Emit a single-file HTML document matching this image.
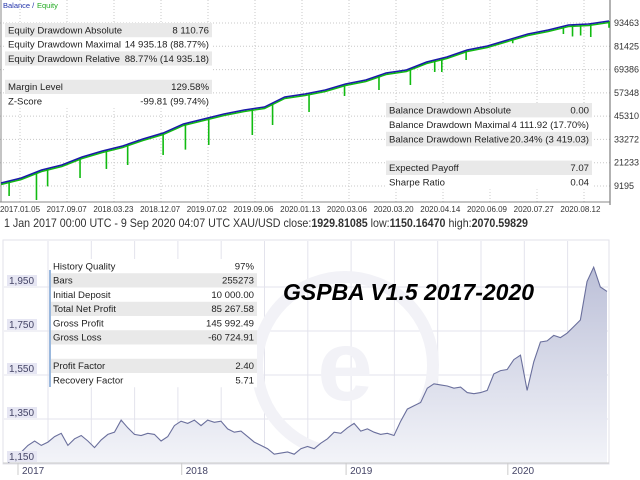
<!DOCTYPE html>
<html><head><meta charset="utf-8">
<style>
body{margin:0;width:640px;height:480px;overflow:hidden;background:#fff;font-family:"Liberation Sans",sans-serif;}
svg{position:absolute;left:0;top:0}
</style></head>
<body>
<svg width="640" height="480" viewBox="0 0 640 480">
<defs>
<linearGradient id="gf" x1="0" y1="0" x2="0" y2="1"><stop offset="0" stop-color="#bcc0d8"/><stop offset="1" stop-color="#f3f4f9"/></linearGradient>
</defs>
<g id="top"></g>
<g id="bot"></g>
</svg>
<script>
// ---- top chart data ----
const balVals=[10746,13331,17467,20052,24188,27290,29875,33494,36596,41249,43834,46419,48487,50038,55208,56759,58827,61929,63997,67616,69167,73303,75888,79507,81575,84677,87779,89847,92432,92949,94500];
const dipIdx=[0.4,1.75,2.3,3.9,5.2,6.25,8,9.1,10.25,12.4,13.4,15.2,16.95,18.65,20.2,21.4,21.75,22.95,25.25,27.75,28.2,28.6,29.1,30];
const dipVals=[4025,1957,9000,13331,18000,20052,25222,28000,30392,35562,40732,47453,55725,58827,61412,68133,68133,74337,83000,87779,86500,87000,86228,91000];
const yTicksTop=[9195,21233,33272,45310,57348,69386,81425,93463,105501];
const xLabelsTop=["2017.01.05","2017.09.07","2018.03.23","2018.12.07","2019.07.02","2019.09.06","2020.01.13","2020.03.06","2020.03.20","2020.04.14","2020.06.09","2020.07.27","2020.08.12"];
// ---- bottom chart data ----
const prices=[1150,1185,1200,1230,1250,1230,1245,1270,1285,1230,1260,1275,1250,1220,1255,1280,1290,1345,1310,1280,1275,1285,1280,1250,1270,
1320,1340,1330,1345,1320,1345,1335,1340,1305,1290,1295,1270,1245,1230,1215,1190,1195,1200,1190,1215,1225,1215,1240,1260,
1290,1285,1310,1330,1295,1305,1290,1280,1285,1275,1340,1395,1410,1425,1490,1510,1505,1500,1490,1495,1470,1465,1470,1480,
1555,1570,1575,1620,1640,1480,1610,1700,1705,1730,1720,1740,1770,1800,1975,2040,1950,1930];
const yearLabels=["2017","2018","2019","2020"];
const yearIdx=[1.5,26.1,50.8,75.1];
const priceTicks=[1150,1350,1550,1750,1950];

const NS="http://www.w3.org/2000/svg";
function mk(p,t,a,txt){const e=document.createElementNS(NS,t);for(const k in a)e.setAttribute(k,a[k]);if(txt!==undefined)e.textContent=txt;p.appendChild(e);return e;}

// top chart
const T=document.getElementById('top');
const tx=i=>i*608/(balVals.length-1)+1;
const ty=v=>186-(v-9195)/517;
for(let i=0;i<13;i++){const x=20+i*47;mk(T,'line',{x1:x,y1:0,x2:x,y2:202,stroke:'#c8c8c8','stroke-dasharray':'1,2'});}
yTicksTop.forEach(v=>{const y=ty(v);if(y<0)return;mk(T,'line',{x1:0,y1:y,x2:610,y2:y,stroke:'#c8c8c8','stroke-dasharray':'1,2'});
const l=mk(T,'text',{x:614,y:y+3,'font-size':9,fill:'#333'},String(v));});
mk(T,'line',{x1:1,y1:0,x2:1,y2:202,stroke:'#888'});
mk(T,'line',{x1:610,y1:0,x2:610,y2:205,stroke:'#666'});
mk(T,'line',{x1:0,y1:202,x2:610,y2:202,stroke:'#888'});
xLabelsTop.forEach((s,i)=>{const l=mk(T,'text',{x:20+i*46.7,y:212,'font-size':8,fill:'#333','text-anchor':'middle'},s);});
let lg=mk(T,'text',{x:3,y:8,'font-size':7.5,fill:'#2233aa'},'Balance / ');
mk(T,'text',{x:37,y:8,'font-size':7.5,fill:'#22aa22'},'Equity');
const balAt=i=>{const a=Math.floor(i),b=Math.min(a+1,balVals.length-1),f=i-a;return balVals[a]*(1-f)+balVals[b]*f;};
dipIdx.forEach((d,k)=>{const x=tx(d);const s=mk(T,'line',{x1:x,y1:ty(balAt(d)),x2:x,y2:ty(dipVals[k]),stroke:'#11bb11','stroke-width':1.6});
});
const eq=mk(T,'polyline',{points:balVals.map((v,i)=>tx(i)+','+(ty(v)+1.5)).join(' '),fill:'none',stroke:'#11bb11','stroke-width':1.5});

const bl=mk(T,'polyline',{points:balVals.map((v,i)=>tx(i)+','+ty(v)).join(' '),fill:'none',stroke:'#1a1aa8','stroke-width':1.5});


function table(p,x,y,w,rh,rows,name){const g=mk(p,'g',{});
mk(g,'rect',{x:x,y:y,width:w,height:rh*rows.length,fill:'#fff'});
rows.forEach((r,i)=>{const yy=y+i*rh;if(r[2])mk(g,'rect',{x:x,y:yy,width:w,height:rh,fill:'#e9e9e9'});
if(r[0]){mk(g,'text',{x:x+3,y:yy+rh-3.8,'font-size':9.6,fill:'#222'},r[0]);mk(g,'text',{x:x+w-3,y:yy+rh-3.8,'font-size':9.6,fill:'#222','text-anchor':'end'},r[1]);}});return g;}
table(T,5,23,207,14.2,[["Equity Drawdown Absolute","8 110.76",1],["Equity Drawdown Maximal","14 935.18 (88.77%)",0],["Equity Drawdown Relative","88.77% (14 935.18)",1],["","",0],["Margin Level","129.58%",1],["Z-Score","-99.81 (99.74%)",0]],'equity-stats-table');
table(T,386,103,206,14.4,[["Balance Drawdown Absolute","0.00",1],["Balance Drawdown Maximal","4 111.92 (17.70%)",0],["Balance Drawdown Relative","20.34% (3 419.03)",1],["","",0],["Expected Payoff","7.07",1],["Sharpe Ratio","0.04",0]],'balance-stats-table');

const cap=mk(document.querySelector('svg'),'text',{x:4,y:227,'font-size':12,fill:'#333',textLength:524,lengthAdjust:'spacingAndGlyphs'});

cap.innerHTML='1 Jan 2017 00:00 UTC - 9 Sep 2020 04:07 UTC  XAU/USD close:<tspan font-weight="bold">1929.81085</tspan> low:<tspan font-weight="bold">1150.16470</tspan> high:<tspan font-weight="bold">2070.59829</tspan>';

// bottom chart
const B=document.getElementById('bot');
const bx=i=>8+i*(607-8)/(prices.length-1);
const by=v=>463-(v-1150)*0.22;
mk(B,'rect',{x:3,y:240,width:606,height:224,fill:'#fff',stroke:'#e2e2ea'});
for(let i=0;i<14;i++){const x=48+i*43.3;if(x>608)break;mk(B,'line',{x1:x,y1:241,x2:x,y2:463,stroke:'#e3e3ec'});}
priceTicks.forEach(v=>{const y=by(v);mk(B,'line',{x1:4,y1:y,x2:608,y2:y,stroke:'#e3e3ec'});});
mk(B,'circle',{cx:345,cy:365,r:88,fill:'none',stroke:'#f2f2f7','stroke-width':12});
mk(B,'text',{x:345,y:400,'font-size':100,fill:'#f2f2f7','text-anchor':'middle','font-weight':'bold'},'e');
const pts=prices.map((v,i)=>bx(i)+','+by(v)).join(' ');
const ar=mk(B,'polygon',{points:bx(0)+',463 '+pts+' '+bx(prices.length-1)+',463',fill:'url(#gf)'});

const pl=mk(B,'polyline',{points:pts,fill:'none',stroke:'#6a6f9c','stroke-width':1.1});

mk(B,'line',{x1:3,y1:463,x2:609,y2:463,stroke:'#ccc'});
priceTicks.forEach(v=>{const y=by(v);mk(B,'rect',{x:7,y:y-12,width:30,height:11,fill:'#e6e6f3'});
const l=mk(B,'text',{x:9,y:y-3,'font-size':10,fill:'#446'},v.toLocaleString('en-US'));});
yearLabels.forEach((s,i)=>{const x=bx(yearIdx[i]);mk(B,'line',{x1:x,y1:463,x2:x,y2:475,stroke:'#ccc'});
const l=mk(B,'text',{x:x+4,y:474,'font-size':10,fill:'#446'},s);});
table(B,50,259,207,14.25,[["History Quality","97%",0],["Bars","255273",1],["Initial Deposit","10 000.00",0],["Total Net Profit","85 267.58",1],["Gross Profit","145 992.49",0],["Gross Loss","-60 724.91",1],["","",0],["Profit Factor","2.40",1],["Recovery Factor","5.71",0]],'backtest-stats-table');
mk(B,'line',{x1:50,y1:270,x2:50,y2:387,stroke:'#9ab8dd','stroke-width':2});
const ti=mk(B,'text',{x:283,y:300,'font-size':23,'font-weight':'bold','font-style':'italic',fill:'#000'},'GSPBA V1.5 2017-2020');

</script>
</body></html>
